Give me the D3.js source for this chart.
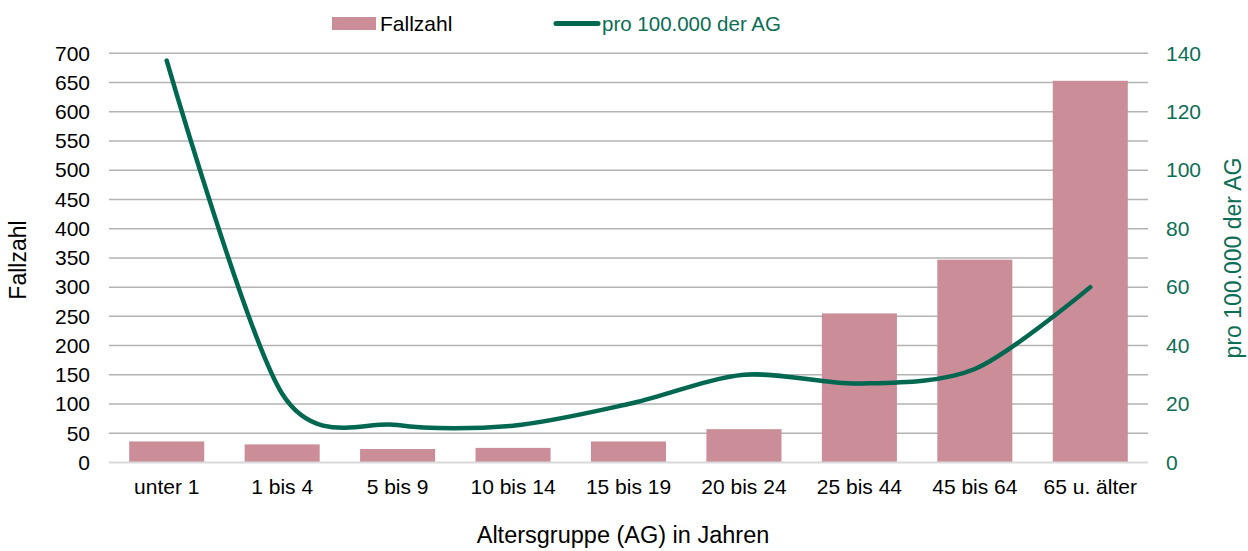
<!DOCTYPE html>
<html>
<head>
<meta charset="utf-8">
<script src="https://cdn.jsdelivr.net/npm/d3@7"></script>
<style>
  body { margin: 0; background: #fff; }
  svg { font-family: "Liberation Sans", Arial, sans-serif; }
</style>
</head>
<body>
<svg id="chart" width="1248" height="551"></svg>
<script>
var categories = ['unter 1', '1 bis 4', '5 bis 9', '10 bis 14', '15 bis 19',
  '20 bis 24', '25 bis 44', '45 bis 64', '65 u. älter'];
var fallzahl = [36, 31, 23, 25, 36, 57, 255, 347, 653];
var proHunderttausend = [137.5, 23.5, 12.8, 12.6, 20, 30, 27, 32, 60];
var leftTicks = [0, 50, 100, 150, 200, 250, 300, 350, 400, 450, 500, 550, 600, 650, 700];
var rightTicks = [0, 20, 40, 60, 80, 100, 120, 140];

var barColor = '#cb8d98',
  lineColor = '#006850',
  greenText = '#0b6e55';

var margin = { top: 53.3, left: 109, right: 100, bottom: 88.5 },
  width = 1148 - margin.left,
  height = 462.5 - margin.top;

var svg = d3.select('#chart');
var g = svg.append('g')
  .attr('transform', 'translate(' + margin.left + ',' + margin.top + ')');

var x = d3.scaleBand().domain(categories).range([0, width]).paddingInner(0.35).paddingOuter(0.175);
var y = d3.scaleLinear().domain([0, 700]).range([height, 0]);
var y2 = d3.scaleLinear().domain([0, 140]).range([height, 0]);

// grid lines
g.selectAll('.grid')
  .data(leftTicks.filter(function(d) { return d > 0; }))
  .enter()
  .append('line')
  .attr('x1', 0)
  .attr('x2', width)
  .attr('y1', function(d) { return y(d); })
  .attr('y2', function(d) { return y(d); })
  .attr('stroke', '#b3b3b3')
  .attr('stroke-width', 1.5);

// bars
g.selectAll('.bar')
  .data(fallzahl)
  .enter()
  .append('rect')
  .attr('x', function(d, i) { return x(categories[i]); })
  .attr('y', function(d) { return y(d); })
  .attr('width', x.bandwidth())
  .attr('height', function(d) { return height - y(d); })
  .attr('fill', barColor);

// baseline
g.append('line')
  .attr('x1', 0).attr('x2', width)
  .attr('y1', height).attr('y2', height)
  .attr('stroke', '#d9d9d9')
  .attr('stroke-width', 2);

// smoothed line
var line = d3.line()
  .x(function(d, i) { return x(categories[i]) + x.bandwidth() / 2; })
  .y(function(d) { return y2(d); })
  .curve(d3.curveCardinal.tension(0.12));

g.append('path')
  .datum(proHunderttausend)
  .attr('d', line)
  .attr('fill', 'none')
  .attr('stroke', lineColor)
  .attr('stroke-width', 4.5)
  .attr('stroke-linecap', 'round');

// left axis labels
var leftAxis = d3.axisLeft(y).tickValues(leftTicks).tickSize(0).tickPadding(19);
g.append('g').call(leftAxis)
  .call(function(a) { a.select('.domain').remove(); })
  .selectAll('text')
  .attr('font-size', 21)
  .attr('font-family', '"Liberation Sans", Arial, sans-serif')
  .attr('fill', '#000');

// right axis labels
var rightAxis = d3.axisRight(y2).tickValues(rightTicks).tickSize(0).tickPadding(18);
g.append('g')
  .attr('transform', 'translate(' + width + ',0)')
  .call(rightAxis)
  .call(function(a) { a.select('.domain').remove(); })
  .selectAll('text')
  .attr('font-size', 21)
  .attr('font-family', '"Liberation Sans", Arial, sans-serif')
  .attr('fill', greenText);

// x axis labels
var xAxis = d3.axisBottom(x).tickSize(0).tickPadding(17);
g.append('g')
  .attr('transform', 'translate(0,' + height + ')')
  .call(xAxis)
  .call(function(a) { a.select('.domain').remove(); })
  .selectAll('text')
  .attr('font-size', 21)
  .attr('font-family', '"Liberation Sans", Arial, sans-serif')
  .attr('fill', '#000');

// axis titles
svg.append('text')
  .attr('x', 623).attr('y', 543)
  .attr('text-anchor', 'middle')
  .attr('font-size', 23.5)
  .text('Altersgruppe (AG) in Jahren');

svg.append('text')
  .attr('transform', 'translate(26,260) rotate(-90)')
  .attr('text-anchor', 'middle')
  .attr('font-size', 23)
  .text('Fallzahl');

svg.append('text')
  .attr('transform', 'translate(1241,258) rotate(-90)')
  .attr('text-anchor', 'middle')
  .attr('font-size', 23)
  .attr('fill', greenText)
  .text('pro 100.000 der AG');

// legend
var legend = svg.append('g');
legend.append('rect')
  .attr('x', 332).attr('y', 17)
  .attr('width', 44).attr('height', 13)
  .attr('fill', barColor);
legend.append('text')
  .attr('x', 380).attr('y', 30.5)
  .attr('font-size', 21)
  .text('Fallzahl');
legend.append('line')
  .attr('x1', 556).attr('x2', 598)
  .attr('y1', 23.5).attr('y2', 23.5)
  .attr('stroke', lineColor)
  .attr('stroke-width', 5)
  .attr('stroke-linecap', 'round');
legend.append('text')
  .attr('x', 602).attr('y', 30.5)
  .attr('font-size', 20.5)
  .attr('fill', greenText)
  .text('pro 100.000 der AG');
</script>
</body>
</html>
